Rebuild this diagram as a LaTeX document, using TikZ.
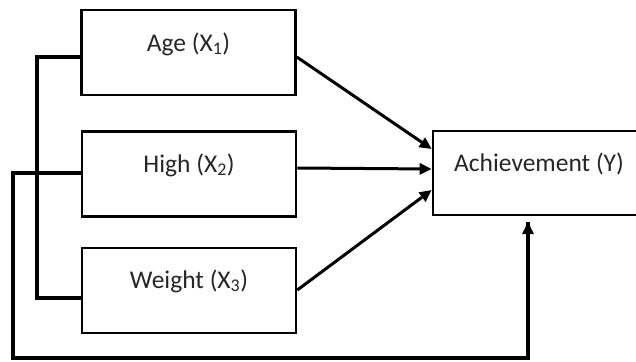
\documentclass[tikz,border=0pt]{standalone}
\usepackage{fontspec}
\setmainfont{Carlito}
\usetikzlibrary{arrows.meta}
\begin{document}
\begin{tikzpicture}[x=1pt,y=-1pt,
  box/.style={draw,line width=2.6pt,minimum width=214pt,minimum height=85pt,inner sep=0pt},
  lbl/.style={font=\fontsize{25.5}{30}\selectfont,text=black!85},
  link/.style={line width=3.6pt},
  arr/.style={line width=3pt,-{Triangle[length=12pt,width=11pt]}}]
\useasboundingbox (0,0) rectangle (636,361);
\node[box] (age) at (188.5,52.5) {};
\node[box] (high) at (189,174) {};
\node[box] (weight) at (189,290.5) {};
\node[box,minimum width=210pt,minimum height=84pt] (ach) at (538,173) {};
\node[lbl] (tage) at (188.5,44) {Age (X\textsubscript{1})};
\node[lbl] (thigh) at (189,165) {High (X\textsubscript{2})};
\node[lbl] (tweight) at (189,281) {Weight (X\textsubscript{3})};
\node[lbl] (tach) at (539,164) {Achievement (Y)};
\coordinate (b) at (528,222);
\draw[link] (age.west|-0,57) -| (37,298) -- (weight.west|-0,298);
\draw[link] (high.west|-0,173) -| (13,358) -| (b);
\draw[arr] (age.east|-0,57) -- (ach.west|-0,149);
\draw[arr] (high.east|-0,168) -- (ach.west|-0,169);
\draw[arr] (weight.east|-0,290) -- (ach.west|-0,190);
\draw[arr,line width=3.4pt] (528,358) -- (b);
\end{tikzpicture}
\end{document}
